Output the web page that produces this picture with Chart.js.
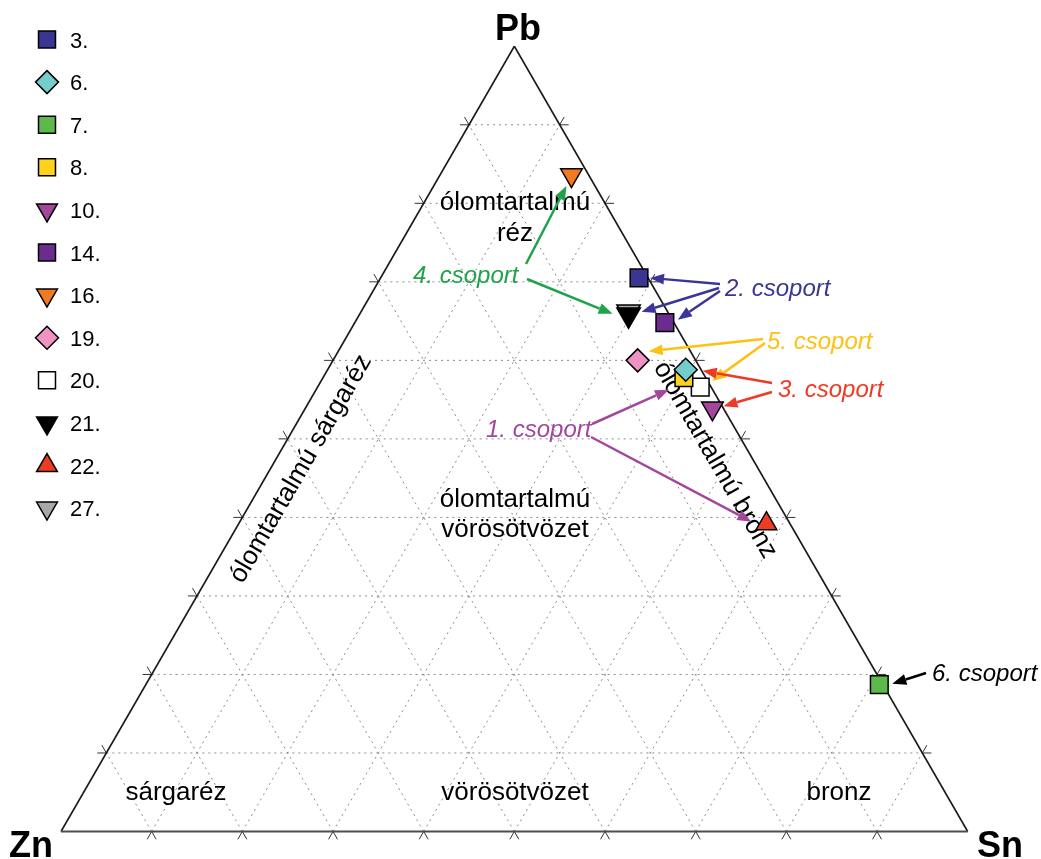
<!DOCTYPE html>
<html>
<head>
<meta charset="utf-8">
<script src="https://cdn.jsdelivr.net/npm/chart.js@4.4.1/dist/chart.umd.min.js"></script>
<style>
  html, body { margin: 0; padding: 0; background: #fff; }
  #wrap { width: 1041px; height: 859px; }
</style>
</head>
<body>
<div id="wrap"><canvas id="ternary" width="1041" height="859"></canvas></div>
<script>
// minták, a jelmagyarázat sorrendjében
const sampleLabels = ['3.', '6.', '7.', '8.', '10.', '14.', '16.', '19.', '20.', '21.', '22.', '27.'];
// összetétel, % (Pb, Sn, Zn)
const pbValues = [70.5, 58.8, 18.7, 57.8, 53.9, 64.8, 83.6, 60.0, 56.6, 65.8, 39.2, 66.2];
const snValues = [28.5, 39.5, 80.9, 39.8, 44.9, 34.2, 14.5, 33.6, 42.2, 29.7, 58.2, 29.5];
const znValues = [1.0, 1.7, 0.4, 2.4, 1.2, 1.0, 1.9, 6.4, 1.2, 4.5, 2.6, 4.3];
// rácsvonalak (%)
const gridSteps = [10, 20, 30, 40, 50, 60, 70, 80, 90];

// jelölők kinézete
const markerStyles = [
    { shape: 'rect', rot: 0, fill: '#3b3593', r: 12.5 },
    { shape: 'rectRot', rot: 0, fill: '#74cdcb', r: 11.5 },
    { shape: 'rect', rot: 0, fill: '#5cb94a', r: 12.5 },
    { shape: 'rect', rot: 0, fill: '#ffd21c', r: 12.5 },
    { shape: 'triangle', rot: 180, fill: '#a2489c', r: 12.5 },
    { shape: 'rect', rot: 0, fill: '#6a2d8e', r: 12.5 },
    { shape: 'triangle', rot: 180, fill: '#f47a22', r: 12.5 },
    { shape: 'rectRot', rot: 0, fill: '#ef93c2', r: 11.5 },
    { shape: 'rect', rot: 0, fill: '#ffffff', r: 12.5 },
    { shape: 'triangle', rot: 180, fill: '#000000', r: 13.5 },
    { shape: 'triangle', rot: 0, fill: '#ee3b24', r: 12 },
    { shape: 'triangle', rot: 180, fill: '#a8a8a8', r: 13.5 }
];

// csoport feliratok + nyilak (kezdőpont, célminta, eltolás a jelölőtől)
const groups = [
    { text: '4. csoport', color: '#1fa24a', tx: 413, ty: 283,
      arrows: [[526, 264, '16.', -5, 11], [527, 279, '21.', -16, -1]] },
    { text: '2. csoport', color: '#3b3597', tx: 725, ty: 296,
      arrows: [[720, 284, '3.', 11, 0], [719, 288, '21.', 13, -3], [720, 291, '14.', 13, -3]] },
    { text: '5. csoport', color: '#fcc111', tx: 767, ty: 349,
      arrows: [[763, 339, '19.', 11, -9], [765, 343, '20.', 12, -6]] },
    { text: '3. csoport', color: '#ee3a25', tx: 778, ty: 397,
      arrows: [[772, 383, '6.', 17, 1], [772, 392, '10.', 11, -2]] },
    { text: '1. csoport', color: '#a3479c', tx: 486, ty: 437,
      arrows: [[592, 424, '8.', -15, 12], [591, 437, '22.', -15, -2]] },
    { text: '6. csoport', color: '#000000', tx: 932, ty: 681,
      arrows: [[926, 673, '7.', 13, -1]] }
];

const FONT = "'Liberation Sans', Arial, Helvetica, sans-serif";
const H = Math.sqrt(3) / 2;

// háromszög koordináta -> derékszögű
function toXY(pb, sn, zn) {
    const t = pb + sn + zn;
    return { x: (sn + pb / 2) / t, y: (pb / t) * H };
}

const datasets = sampleLabels.map((lab, i) => {
    const st = markerStyles[i];
    return {
        label: lab,
        data: [toXY(pbValues[i], snValues[i], znValues[i])],
        pointStyle: st.shape,
        rotation: st.rot,
        radius: st.r,
        hoverRadius: st.r,
        backgroundColor: st.fill,
        borderColor: '#000',
        borderWidth: 1.5,
        hoverBorderWidth: 1.5
    };
});

function arrow(ctx, x1, y1, x2, y2, color) {
    const a = Math.atan2(y2 - y1, x2 - x1), len = 14, w = 5.5;
    const bx = x2 - Math.cos(a) * len, by = y2 - Math.sin(a) * len;
    ctx.strokeStyle = color;
    ctx.lineWidth = 2.5;
    ctx.beginPath(); ctx.moveTo(x1, y1); ctx.lineTo(bx, by); ctx.stroke();
    ctx.fillStyle = color;
    ctx.beginPath();
    ctx.moveTo(x2, y2);
    ctx.lineTo(bx - Math.sin(a) * w, by + Math.cos(a) * w);
    ctx.lineTo(bx + Math.sin(a) * w, by - Math.cos(a) * w);
    ctx.closePath();
    ctx.fill();
}

function marker(ctx, st, x, y) {
    ctx.fillStyle = st.fill;
    ctx.strokeStyle = '#000';
    ctx.lineWidth = 1.5;
    Chart.helpers.drawPoint(ctx, { pointStyle: st.shape, rotation: st.rot, radius: st.r, borderWidth: 1.5 }, x, y);
}

const ternaryFrame = {
    id: 'ternaryFrame',
    beforeDatasetsDraw(chart) {
        const ctx = chart.ctx, xs = chart.scales.x, ys = chart.scales.y;
        const P = (pb, sn) => {
            const c = toXY(pb, sn, 100 - pb - sn);
            return [xs.getPixelForValue(c.x), ys.getPixelForValue(c.y)];
        };
        const seg = (a, b) => { ctx.beginPath(); ctx.moveTo(a[0], a[1]); ctx.lineTo(b[0], b[1]); ctx.stroke(); };
        ctx.save();

        // pontozott rács
        ctx.strokeStyle = '#8c8c8c';
        ctx.lineWidth = 1;
        ctx.setLineDash([2, 4]);
        gridSteps.forEach(g => {
            seg(P(g, 0), P(g, 100 - g));
            seg(P(0, g), P(100 - g, g));
            seg(P(0, 100 - g), P(100 - g, 0));
        });
        ctx.setLineDash([]);

        // kis jelek az oldalakon
        const L = 9;
        ctx.strokeStyle = '#333';
        ctx.lineWidth = 1;
        gridSteps.forEach(g => {
            let p = P(0, g);
            seg(p, [p[0] - 0.5 * L, p[1] + H * L]); seg(p, [p[0] + 0.5 * L, p[1] + H * L]);
            p = P(g, 0);
            seg(p, [p[0] - L, p[1]]); seg(p, [p[0] - 0.5 * L, p[1] - H * L]);
            p = P(g, 100 - g);
            seg(p, [p[0] + L, p[1]]); seg(p, [p[0] + 0.5 * L, p[1] - H * L]);
        });

        // háromszög oldalai
        const zn = P(0, 0), sn = P(0, 100), pb = P(100, 0);
        ctx.strokeStyle = '#1a1a1a';
        ctx.lineWidth = 1.6;
        seg(zn, pb); seg(pb, sn);
        ctx.strokeStyle = '#4d4d4d';
        ctx.lineWidth = 2.2;
        seg(zn, sn);

        // mezők nevei
        ctx.fillStyle = '#000';
        ctx.font = '26px ' + FONT;
        ctx.textAlign = 'center';
        ctx.textBaseline = 'alphabetic';
        ctx.fillText('ólomtartalmú', 515, 210);
        ctx.fillText('réz', 515, 241);
        ctx.fillText('ólomtartalmú', 515, 507);
        ctx.fillText('vörösötvözet', 515, 537);
        ctx.fillText('sárgaréz', 176, 800);
        ctx.fillText('vörösötvözet', 515, 800);
        ctx.fillText('bronz', 839, 800);

        ctx.textBaseline = 'middle';
        ctx.save();
        ctx.translate(715, 460);
        ctx.rotate(Math.PI / 3);
        ctx.fillText('ólomtartalmú bronz', 0, 0);
        ctx.restore();
        ctx.save();
        ctx.translate(301, 469);
        ctx.rotate(-Math.PI / 3);
        ctx.fillText('ólomtartalmú sárgaréz', 0, 0);
        ctx.restore();

        // csúcsok
        ctx.font = 'bold 36px ' + FONT;
        ctx.textBaseline = 'alphabetic';
        ctx.fillText('Pb', 518, 40);
        ctx.textAlign = 'left';
        ctx.fillText('Zn', 9, 857);
        ctx.fillText('Sn', 977, 857);
        ctx.restore();
    },
    afterDatasetsDraw(chart) {
        const ctx = chart.ctx;
        ctx.save();

        // csoportok
        groups.forEach(g => {
            g.arrows.forEach(a => {
                const pt = chart.getDatasetMeta(sampleLabels.indexOf(a[2])).data[0];
                arrow(ctx, a[0], a[1], pt.x + a[3], pt.y + a[4], g.color);
            });
            ctx.fillStyle = g.color;
            ctx.font = 'italic 24px ' + FONT;
            ctx.textAlign = 'left';
            ctx.textBaseline = 'alphabetic';
            ctx.fillText(g.text, g.tx, g.ty);
        });

        // jelmagyarázat
        ctx.font = '22px ' + FONT;
        sampleLabels.forEach((lab, i) => {
            const y = 39.5 + i * 42.6;
            const st = markerStyles[i];
            marker(ctx, Object.assign({}, st, { r: Math.min(st.r, 12) }), 47, y);
            ctx.fillStyle = '#000';
            ctx.fillText(lab, 70, y + 8);
        });
        ctx.restore();
    }
};

new Chart(document.getElementById('ternary'), {
    type: 'scatter',
    data: { datasets: datasets },
    options: {
        responsive: false,
        animation: false,
        layout: { padding: 0, autoPadding: false },
        scales: {
            x: { type: 'linear', display: false, min: -61 / 906.7, max: 980 / 906.7 },
            y: { type: 'linear', display: false, min: -27.5 / 906.7, max: 831.5 / 906.7 }
        },
        plugins: {
            legend: { display: false },
            tooltip: { enabled: false }
        },
        events: []
    },
    plugins: [ternaryFrame]
});
</script>
</body>
</html>
